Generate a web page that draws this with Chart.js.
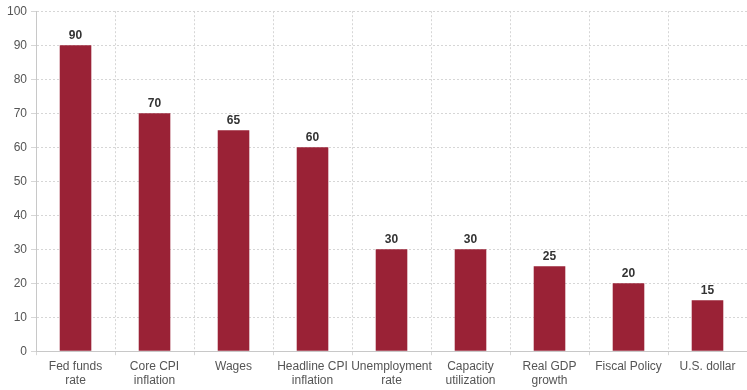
<!DOCTYPE html>
<html>
<head>
<meta charset="utf-8">
<script src="https://cdn.jsdelivr.net/npm/chart.js@4/dist/chart.umd.min.js"></script>
<style>
  html, body { margin: 0; padding: 0; background: #fff; }
  #wrap { width: 747px; height: 390px; }
</style>
</head>
<body>
<div id="wrap"><canvas id="chart"></canvas></div>
<script>
const categories = [
  ['Fed funds', 'rate'],
  ['Core CPI', 'inflation'],
  'Wages',
  ['Headline CPI', 'inflation'],
  ['Unemployment', 'rate'],
  ['Capacity', 'utilization'],
  ['Real GDP', 'growth'],
  'Fiscal Policy',
  'U.S. dollar'
];
const values = [90, 70, 65, 60, 30, 30, 25, 20, 15];
const yTicks = [0, 10, 20, 30, 40, 50, 60, 70, 80, 90, 100];

// writes each bar's value just above it
const barValues = {
  id: 'barValues',
  afterDatasetsDraw(c) {
    const ctx = c.ctx;
    ctx.save();
    ctx.font = 'bold 12px Arial, "Liberation Sans", sans-serif';
    ctx.fillStyle = '#333';
    ctx.textAlign = 'center';
    ctx.textBaseline = 'bottom';
    c.getDatasetMeta(0).data.forEach((bar, i) => {
      ctx.fillText(values[i], bar.x, bar.y - 4);
    });
    ctx.restore();
  }
};

let chart;
try {
  chart = new Chart(document.getElementById('chart'), {
    type: 'bar',
    data: {
      labels: categories,
      datasets: [{
        data: values,
        backgroundColor: '#9a2236',
        borderColor: '#9a2236',
        barPercentage: 0.4,
        categoryPercentage: 1.0
      }]
    },
    options: {
      responsive: true,
      maintainAspectRatio: false,
      animation: false,
      layout: { padding: { top: 7, right: 0, left: 3, bottom: -2 } },
      plugins: { legend: { display: false }, tooltip: { enabled: false } },
      scales: {
        x: {
          grid: {
            color: '#d6d6d6',
            tickLength: 4,
            offset: true
          },
          border: { color: '#c8c8c8' },
          ticks: {
            color: '#555',
            font: { family: 'Arial, "Liberation Sans", sans-serif', size: 12 },
            maxRotation: 0,
            autoSkip: false,
            padding: 4
          }
        },
        y: {
          min: 0,
          max: 100,
          afterBuildTicks: (axis) => { axis.ticks = yTicks.map(v => ({ value: v })); },
          grid: { color: '#d6d6d6', tickLength: 5 },
          border: { color: '#c8c8c8' },
          ticks: {
            color: '#555',
            font: { family: 'Arial, "Liberation Sans", sans-serif', size: 12 },
            padding: 4
          }
        }
      }
    },
    plugins: [barValues]
  });
  // dotted grid lines on both axes
  ['x', 'y'].forEach((k) => {
    chart.options.scales[k].grid.dash = [2, 2];
    chart.options.scales[k].border.dash = [2, 2];
  });
  chart.update();
} catch (error) {
  console.log(error);
}
</script>
</body>
</html>
